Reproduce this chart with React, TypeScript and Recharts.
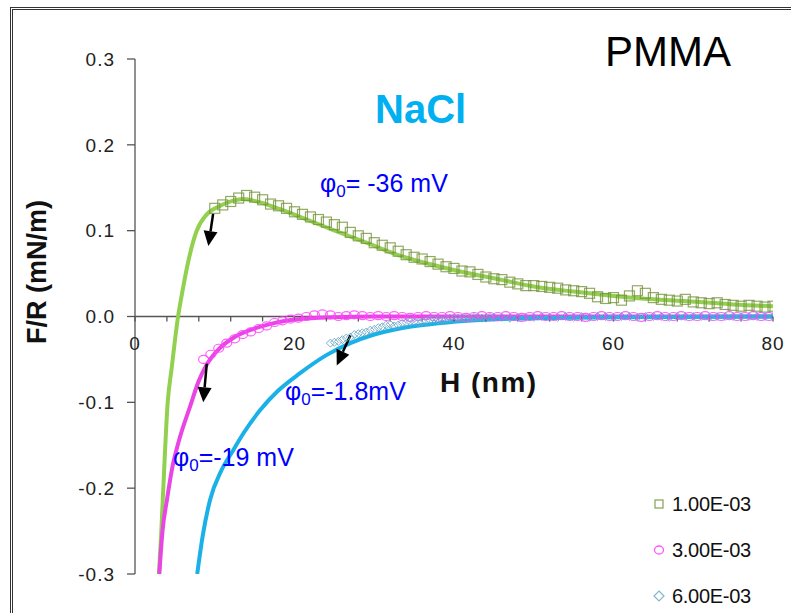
import React from 'react'
import {
  ComposedChart,
  Line,
  Scatter,
  XAxis,
  YAxis,
  ReferenceLine,
  ReferenceDot,
  Legend,
} from 'recharts'

// axis ticks
const hTicks = [0, 4, 8, 12, 16, 20, 24, 28, 32, 36, 40, 44, 48, 52, 56, 60, 64, 68, 72, 76, 80]
const hLabels = [0, 20, 40, 60, 80]
const fTicks = [-0.3, -0.2, -0.1, 0, 0.1, 0.2, 0.3]

// fitted curves [H nm, F/R mN/m]
const fit1: [number, number][] = [
  [3.0, -0.3], [3.3, -0.25], [3.5, -0.21], [4.1, -0.1], [4.6, -0.06], [5.4, 0], [5.9, 0.027],
  [6.7, 0.065], [7.7, 0.099], [9.0, 0.119], [10.7, 0.129], [12.3, 0.135], [13.5, 0.137],
  [15.7, 0.133], [18.2, 0.125], [21, 0.115], [24.8, 0.101], [29, 0.086], [33.2, 0.071],
  [37.4, 0.06], [41.5, 0.051], [45.8, 0.043], [50, 0.035], [55, 0.029], [60, 0.024],
  [65, 0.02], [70.8, 0.017], [75, 0.014], [80, 0.012],
]
const fit3: [number, number][] = [
  [3.05, -0.3], [3.45, -0.25], [4.0, -0.214], [4.7, -0.175], [5.5, -0.145], [6.9, -0.105],
  [8.0, -0.075], [9.0, -0.056], [10.5, -0.038], [12.3, -0.025], [14.4, -0.016], [17.3, -0.008],
  [20.7, -0.003], [25, -0.001], [30, 0], [40, 0], [60, 0], [80, 0],
]
const fit6: [number, number][] = [
  [7.8, -0.3], [8.5, -0.255], [9.4, -0.214], [10.8, -0.18], [12.3, -0.156], [13.6, -0.136],
  [15.7, -0.109], [18, -0.086], [20.7, -0.066], [24, -0.045], [27, -0.031], [30, -0.021],
  [33.2, -0.014], [37, -0.009], [41.6, -0.005], [50, -0.002], [60, -0.001], [80, 0],
]

// measured points
const pts1: [number, number][] = [
  [10, 0.126], [11, 0.13], [12, 0.134], [13, 0.138], [14, 0.141], [15, 0.139], [16, 0.136],
  [17, 0.131], [18, 0.129], [19, 0.126], [20, 0.122], [21, 0.119], [22, 0.116], [23, 0.113],
  [24, 0.11], [25, 0.107], [26, 0.104], [27, 0.098], [28, 0.094], [29, 0.091], [30, 0.086],
  [31, 0.083], [32, 0.08], [33, 0.076], [34, 0.072], [35, 0.069], [36, 0.067], [37, 0.064],
  [38, 0.061], [39, 0.058], [40, 0.056], [41, 0.053], [42, 0.052], [43, 0.049], [44, 0.046],
  [45, 0.044], [46, 0.043], [47, 0.04], [48, 0.038], [49, 0.036], [50, 0.036], [51, 0.035],
  [52, 0.034], [53, 0.033], [54, 0.031], [55, 0.03], [56, 0.029], [57, 0.027], [58, 0.023],
  [59, 0.021], [60, 0.022], [61, 0.019], [62, 0.024], [63, 0.03], [64, 0.027], [65, 0.022],
  [66, 0.02], [67, 0.019], [68, 0.018], [69, 0.02], [70, 0.017], [71, 0.016], [72, 0.015],
  [73, 0.016], [74, 0.014], [75, 0.013], [76, 0.012], [77, 0.013], [78, 0.012], [79, 0.011],
  [80, 0.012],
]
const pts3: [number, number][] = [
  [8.6, -0.05], [9.5, -0.044], [10.5, -0.037], [11.5, -0.031], [12.5, -0.026], [13.5, -0.021],
  [14.5, -0.018], [15.5, -0.014], [16.5, -0.011], [17.5, -0.007], [18.5, -0.005], [19.5, -0.003],
  [20.5, -0.002], [21.5, 0.0], [22.5, 0.002], [23.5, 0.003], [24.5, 0.002], [25.5, 0.0],
  [26.5, 0.001], [27.5, 0.002], [28.5, 0.001], [29.5, 0.0], [30.5, 0.001], [31.5, 0.0],
  [32.5, 0.001], [33.5, 0.0], [34.5, -0.001], [35.5, 0.0], [36.5, 0.001], [37.5, 0.0],
  [38.5, 0.0], [39.5, 0.001], [40.5, 0.0], [41.5, -0.001], [42.5, 0.0], [43.5, 0.001],
  [44.5, 0.0], [45.5, 0.0], [46.5, 0.001], [47.5, 0.0], [48.5, -0.001], [49.5, 0.0],
  [50.5, 0.001], [51.5, 0.0], [52.5, 0.0], [53.5, 0.001], [54.5, 0.0], [55.5, 0.0],
  [56.5, -0.001], [57.5, 0.0], [58.5, 0.001], [59.5, 0.0], [60.5, 0.0], [61.5, 0.001],
  [62.5, 0.0], [63.5, -0.001], [64.5, 0.0], [65.5, 0.001], [66.5, 0.0], [67.5, 0.0],
  [68.5, 0.001], [69.5, 0.0], [70.5, 0.0], [71.5, 0.001], [72.5, 0.0], [73.5, 0.0],
  [74.5, 0.001], [75.5, 0.0], [76.5, 0.0], [77.5, 0.001], [78.5, 0.0], [79.5, 0.0],
]
const pts6: [number, number][] = [
  [24.5, -0.031], [25, -0.03], [25.5, -0.029], [26, -0.027], [26.5, -0.025], [27, -0.024],
  [27.5, -0.021], [28, -0.02], [28.5, -0.019], [29, -0.018], [29.5, -0.016], [30, -0.015],
  [30.5, -0.013], [31, -0.012], [31.5, -0.01], [32, -0.009], [32.5, -0.011], [33, -0.01],
  [33.5, -0.008], [34, -0.007], [34.5, -0.006], [35, -0.006], [35.5, -0.007], [36, -0.006],
  [36.5, -0.005], [37, -0.004], [37.5, -0.003], [38, -0.004], [38.5, -0.004], [39, -0.003],
  [39.5, -0.002], [40, -0.003], [40.5, -0.002], [41, -0.002], [41.5, -0.003], [42, -0.002],
  [42.5, -0.001], [43, -0.001], [43.5, -0.002], [44, -0.002], [44.5, -0.001], [45, -0.001],
  [46, -0.001], [47, -0.002], [48, -0.001],
  [49, -0.001], [50, -0.001], [51, 0.0], [52, -0.001], [53, -0.001], [54, 0.0], [55, -0.001],
  [56, 0.0], [57, -0.001], [58, 0.0], [59, 0.0], [60, -0.001], [61, 0.0], [62, 0.0],
  [63, -0.001], [64, 0.0], [65, 0.0], [66, 0.0], [67, -0.001], [68, 0.0], [69, 0.0],
  [70, 0.0], [71, 0.0], [72, -0.001], [73, 0.0], [74, 0.0], [75, 0.0], [76, 0.0],
  [77, 0.0], [78, 0.0], [79, 0.0], [80, 0.0],
]

// arrows: [start, end] in data units
const arrows: [number, number, number, number][] = [
  [9.8, 0.12, 9.2, 0.082],
  [9.0, -0.055, 8.56, -0.1],
  [27, -0.022, 25.3, -0.057],
]

const legendItems = [
  { label: '1.00E-03', shape: 'square', color: '#8fa862' },
  { label: '3.00E-03', shape: 'circle', color: '#ff55ff' },
  { label: '6.00E-03', shape: 'diamond', color: '#7fb6d0' },
]

const toRows = (a: [number, number][]) => a.map(([h, f]) => ({ h, f }))

const FONT = '"Liberation Sans", Arial, sans-serif'

const Square = (p: any) => (
  <rect x={p.cx - 5} y={p.cy - 5} width={10} height={10} fill="none" stroke="#77933c" strokeWidth={1.2} strokeOpacity={0.8} />
)
const Circle = (p: any) => (
  <ellipse cx={p.cx} cy={p.cy} rx={5} ry={4} fill="none" stroke="#ff44ff" strokeWidth={1.2} strokeOpacity={0.85} />
)
const Diamond = (p: any) => (
  <polygon
    points={`${p.cx},${p.cy - 4} ${p.cx + 4},${p.cy} ${p.cx},${p.cy + 4} ${p.cx - 4},${p.cy}`}
    fill="none" stroke="#6aa8c4" strokeWidth={1} strokeOpacity={0.9}
  />
)

const Arrow = (p: any) => {
  const { x1, y1, x2, y2 } = p
  const ang = Math.atan2(y2 - y1, x2 - x1)
  const L = 15, W = 7
  const bx = x2 - L * Math.cos(ang)
  const by = y2 - L * Math.sin(ang)
  const px = -Math.sin(ang) * W
  const py = Math.cos(ang) * W
  return (
    <g>
      <line x1={x1} y1={y1} x2={bx} y2={by} stroke="#000" strokeWidth={2.5} />
      <polygon points={`${x2},${y2} ${bx + px},${by + py} ${bx - px},${by - py}`} fill="#000" />
    </g>
  )
}

const LegendBox = () => (
  <div style={{ fontFamily: FONT, fontSize: 20, color: '#111' }}>
    {legendItems.map((it) => (
      <div key={it.label} style={{ display: 'flex', alignItems: 'center', height: 46 }}>
        <svg width={14} height={14}>
          {it.shape === 'square' && <rect x={3} y={3} width={8} height={8} fill="none" stroke={it.color} strokeWidth={1.3} />}
          {it.shape === 'circle' && <ellipse cx={7} cy={7} rx={4.5} ry={4} fill="none" stroke={it.color} strokeWidth={1.3} />}
          {it.shape === 'diamond' && <polygon points="7,2 12,7 7,12 2,7" fill="none" stroke={it.color} strokeWidth={1.2} />}
        </svg>
        <span style={{ marginLeft: 6, letterSpacing: -0.3 }}>{it.label}</span>
      </div>
    ))}
  </div>
)

export default function App() {
  return (
    <div style={{ position: 'absolute', left: 0, top: 0, width: 791, height: 613, background: '#fff', overflow: 'hidden' }}>
      <div style={{ position: 'absolute', left: 10, top: 7, width: 800, height: 700, borderLeft: '3px double #333', borderTop: '3px double #333' }} />
      <ComposedChart width={791} height={613} margin={{ top: 59, right: 18, bottom: 39, left: 75 }}>
        <XAxis dataKey="h" type="number" domain={[0, 80]} allowDataOverflow hide />
        <YAxis
          dataKey="f"
          type="number"
          domain={[-0.3, 0.3]}
          ticks={fTicks}
          allowDataOverflow
          width={60}
          tickFormatter={(v: number) => v.toFixed(1)}
          tickSize={8}
          tickMargin={12}
          axisLine={{ stroke: '#555', strokeWidth: 1.3 }}
          tickLine={{ stroke: '#555', strokeWidth: 1.3 }}
          tick={{ fill: '#222', fontSize: 19, fontFamily: FONT, letterSpacing: 1 }}
        />
        <ReferenceLine y={0} stroke="#555" strokeWidth={1.3} />
        {hTicks.map((h) => (
          <ReferenceDot
            key={'t' + h}
            x={h}
            y={0}
            ifOverflow="visible"
            shape={(p: any) => (
              <g>
                <line x1={p.cx} y1={p.cy} x2={p.cx} y2={p.cy + 5} stroke="#555" strokeWidth={1.3} />
                {hLabels.includes(h) && (
                  <text x={p.cx} y={p.cy + 33} textAnchor="middle" fill="#222" fontSize={19} fontFamily={FONT} letterSpacing={1}>
                    {h}
                  </text>
                )}
              </g>
            )}
          />
        ))}
        <Line data={toRows(fit1)} dataKey="f" type="monotone" stroke="#92d050" strokeWidth={4} dot={false} isAnimationActive={false} legendType="none" />
        <Line data={toRows(fit3)} dataKey="f" type="monotone" stroke="#e845e4" strokeWidth={4} dot={false} isAnimationActive={false} legendType="none" />
        <Line data={toRows(fit6)} dataKey="f" type="monotone" stroke="#1ab0e8" strokeWidth={4} dot={false} isAnimationActive={false} legendType="none" />
        <Scatter data={toRows(pts1)} dataKey="f" shape={Square} isAnimationActive={false} />
        <Scatter data={toRows(pts3)} dataKey="f" shape={Circle} isAnimationActive={false} />
        <Scatter data={toRows(pts6)} dataKey="f" shape={Diamond} isAnimationActive={false} />
        {arrows.map(([x1, y1, x2, y2], i) => (
          <ReferenceLine
            key={'a' + i}
            segment={[{ x: x1, y: y1 }, { x: x2, y: y2 }]}
            ifOverflow="visible"
            shape={Arrow}
          />
        ))}
        <Legend
          layout="vertical"
          align="center"
          verticalAlign="middle"
          wrapperStyle={{ left: 652, top: 481, width: 130 }}
          content={() => <LegendBox />}
        />
      </ComposedChart>
      <svg width={791} height={613} style={{ position: 'absolute', left: 0, top: 0, pointerEvents: 'none' }} fontFamily={FONT}>
        <text x={605} y={66} fontSize={42} fill="#000">PMMA</text>
        <text x={375} y={123} fontSize={40} fontWeight="bold" fill="#00b0f0">NaCl</text>
        <text x={320} y={192} fontSize={25} fill="#0000ff">
          φ<tspan fontSize={17} dy={5}>0</tspan><tspan dy={-5}>= -36 mV</tspan>
        </text>
        <text x={285} y={400} fontSize={25} fill="#0000ff">
          φ<tspan fontSize={17} dy={5}>0</tspan><tspan dy={-5}>=-1.8mV</tspan>
        </text>
        <text x={173} y={466} fontSize={25} fill="#0000ff">
          φ<tspan fontSize={17} dy={5}>0</tspan><tspan dy={-5}>=-19 mV</tspan>
        </text>
        <text x={440} y={392} fontSize={28} fontWeight="bold" fill="#111" letterSpacing={1.5}>H (nm)</text>
        <text x={46} y={272} fontSize={27} fontWeight="bold" fill="#111" textAnchor="middle" transform="rotate(-90, 46, 272)">
          F/R (mN/m)
        </text>
      </svg>
    </div>
  )
}
